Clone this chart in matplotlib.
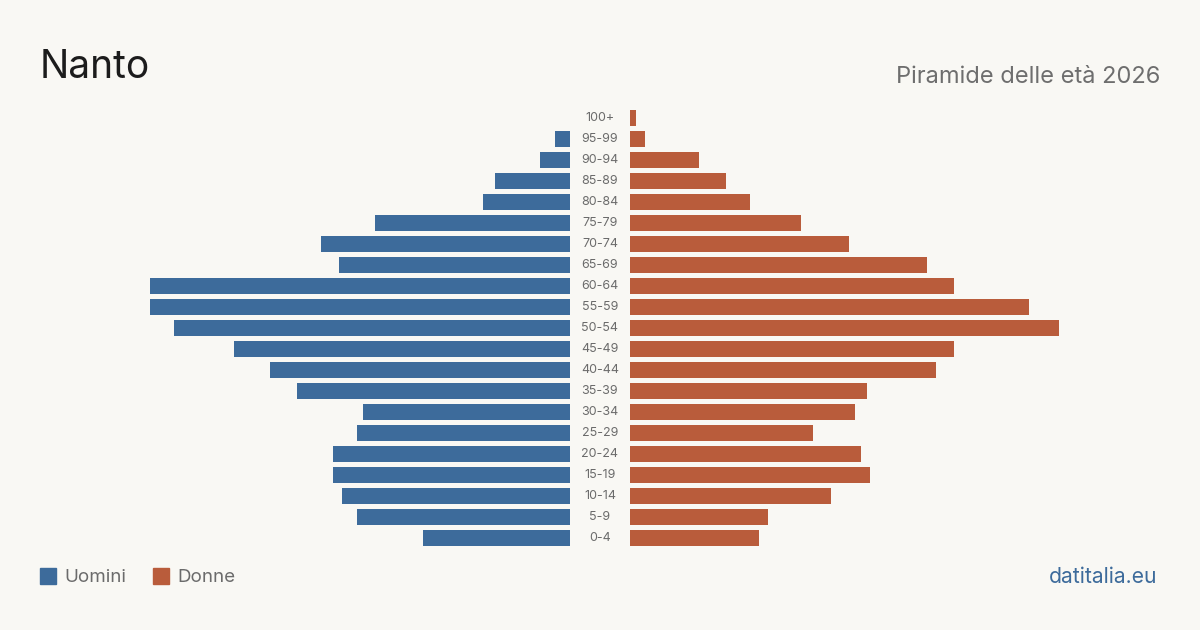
import matplotlib
matplotlib.use("Agg")
import matplotlib.pyplot as plt
from matplotlib.patches import Rectangle

plt.rcParams['font.family'] = ['Inter', 'DejaVu Sans']

# classi di età (dal basso verso l'alto)
eta = ["0-4", "5-9", "10-14", "15-19", "20-24", "25-29", "30-34", "35-39",
       "40-44", "45-49", "50-54", "55-59", "60-64", "65-69", "70-74",
       "75-79", "80-84", "85-89", "90-94", "95-99", "100+"]

uomini = [49, 71, 76, 79, 79, 71, 69, 91, 100, 112, 132, 140, 140, 77, 83,
          65, 29, 25, 10, 5, 0]
donne = [43, 46, 67, 80, 77, 61, 75, 79, 102, 108, 143, 133, 108, 99, 73,
         57, 40, 32, 23, 5, 2]

blu = "#3d6b9b"
arancio = "#b95c3b"
sfondo = "#f9f8f4"

W, H = 1200, 630
fig = plt.figure(figsize=(12, 6.3), dpi=100, facecolor=sfondo)

px_per_unit = 3.0
top_px, bot_px = 107.5, 548.5
# asse sinistro: da x=40 a 570 px
lx0, lx1 = 40, 570
rx0, rx1 = 630, 1160
b = 1 - bot_px / H
h = (bot_px - top_px) / H

axl = fig.add_axes([lx0 / W, b, (lx1 - lx0) / W, h])
axr = fig.add_axes([rx0 / W, b, (rx1 - rx0) / W, h])

y = list(range(len(eta)))
axl.barh(y, uomini, height=0.8, color=blu)
axr.barh(y, donne, height=0.8, color=arancio)

axl.set_xlim((lx1 - lx0) / px_per_unit, 0)
axr.set_xlim(0, (rx1 - rx0) / px_per_unit)

for ax in (axl, axr):
    ax.set_ylim(-0.5, len(eta) - 0.5)
    ax.axis("off")
    ax.set_facecolor("none")

# etichette centrali
for i, lab in enumerate(eta):
    yy = (i + 0.5) / len(eta)
    fig.text(600 / W, b + yy * h, lab, ha="center", va="center",
             fontsize=9, color="#6b6b6b")

fig.text(40 / W, 1 - 67 / H, "Nanto", ha="left", va="center",
         fontsize=28, color="#1c1c1c")
fig.text(1160 / W, 1 - 77 / H, "Piramide delle età 2026", ha="right",
         va="center", fontsize=17, color="#6e6e6e")

# legenda
fig.patches.append(Rectangle((40 / W, 1 - 584 / H), 16 / W, 16 / H,
                             transform=fig.transFigure, color=blu))
fig.text(64 / W, 1 - 577 / H, "Uomini", ha="left", va="center",
         fontsize=13.5, color="#6b6b6b")
fig.patches.append(Rectangle((153 / W, 1 - 584 / H), 16 / W, 16 / H,
                             transform=fig.transFigure, color=arancio))
fig.text(177 / W, 1 - 577 / H, "Donne", ha="left", va="center",
         fontsize=13.5, color="#6b6b6b")

fig.text(1157 / W, 1 - 577 / H, "datitalia.eu", ha="right", va="center",
         fontsize=15.2, color="#3d6b9b")

fig.savefig("out.png", dpi=100, facecolor=sfondo)
